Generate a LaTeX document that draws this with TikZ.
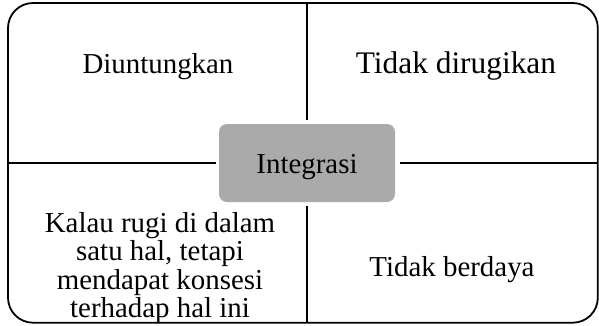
\documentclass[tikz,border=0pt]{standalone}
\usepackage{fontspec}
\setmainfont{Liberation Serif}
\begin{document}
\begin{tikzpicture}[x=1bp,y=-1bp,
  frame/.style={draw=black,line width=1.8bp,rounded corners=25bp},
  divider/.style={draw=black,line width=2.6bp},
  hub/.style={fill={rgb,255:red,170;green,170;blue,170},rounded corners=8bp,minimum width=176bp,minimum height=78bp,inner sep=0pt},
  lbl/.style={font=\fontsize{29}{29}\selectfont,anchor=base,inner sep=0pt},
  biglbl/.style={font=\fontsize{31.5}{32}\selectfont,anchor=base,inner sep=0pt}]
\useasboundingbox (0,0) rectangle (599,325);
\draw[frame] (8,3) rectangle (597.8,322.7);
\node[hub] (hub) at (307,163) {};
\node[lbl] (hubtxt) at (307,173) {Integrasi};
\coordinate (lft) at (8,163);
\coordinate (rgt) at (597.8,163);
\coordinate (top) at (307,3);
\coordinate (bot) at (307,322.7);
\draw[divider] (lft) -- ([xshift=-3bp]hub.west);
\draw[divider] ([xshift=5bp]hub.east) -- (rgt);
\draw[divider,line width=1.9bp] (top) -- ([yshift=4bp]hub.north);
\draw[divider,line width=1.9bp] ([yshift=-4bp]hub.south) -- (bot);
\node[lbl] (q1) at (158,73) {Diuntungkan};
\node[biglbl] (q2) at (456,73) {Tidak dirugikan};
\node[lbl] (q3a) at (160,232) {Kalau rugi di dalam};
\node[lbl] (q3b) at (160,260.5) {satu hal, tetapi};
\node[lbl] (q3c) at (160,289) {mendapat konsesi};
\node[lbl] (q3d) at (160,317.5) {terhadap hal ini};
\node[lbl] (q4) at (452,276) {Tidak berdaya};
\end{tikzpicture}
\end{document}
